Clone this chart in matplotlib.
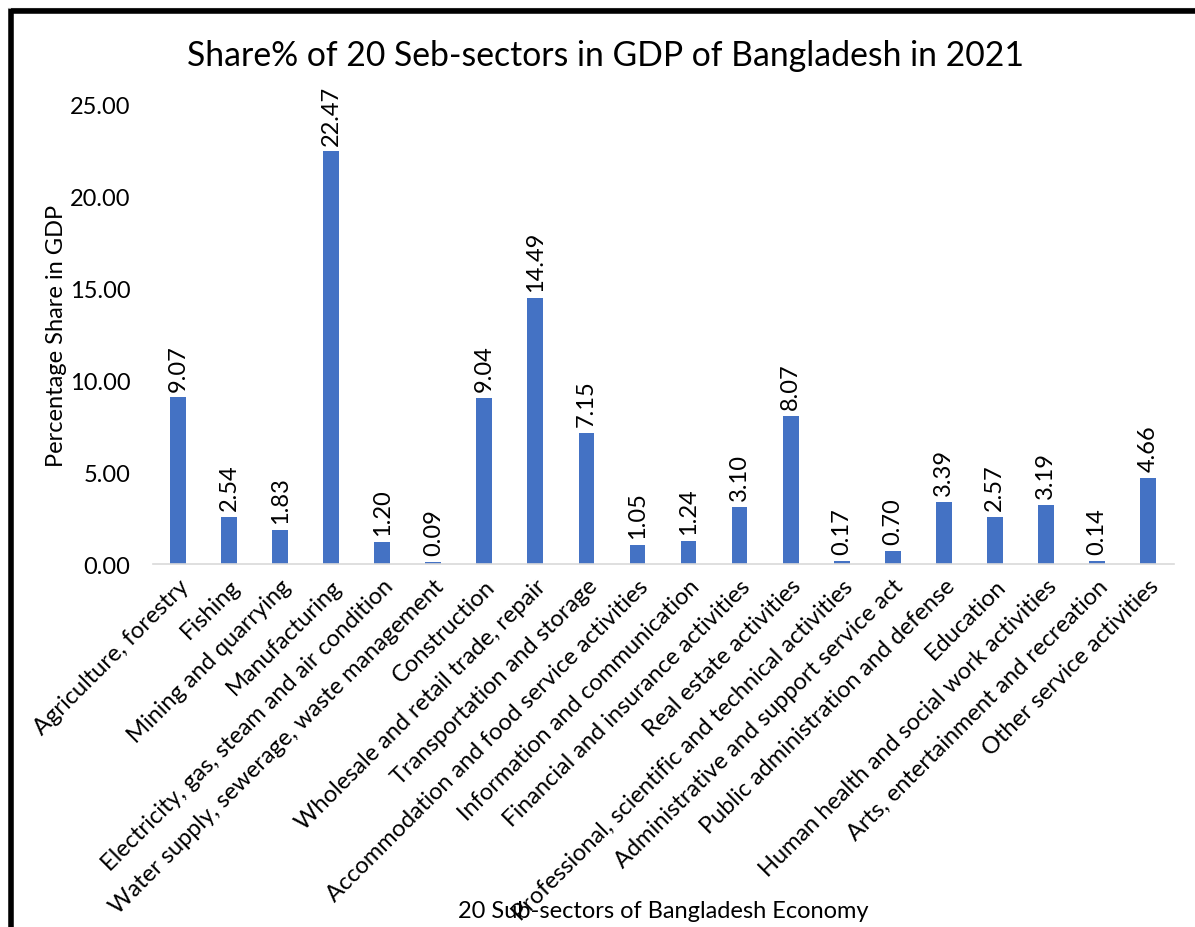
import matplotlib
matplotlib.use("Agg")
import matplotlib.pyplot as plt
from matplotlib.lines import Line2D

# ---- data ----
sectors = [
    "Agriculture, forestry",
    "Fishing",
    "Mining and quarrying",
    "Manufacturing",
    "Electricity, gas, steam and air condition",
    "Water supply, sewerage, waste management",
    "Construction",
    "Wholesale and retail trade, repair",
    "Transportation and storage",
    "Accommodation and food service activities",
    "Information and communication",
    "Financial and insurance activities",
    "Real estate activities",
    "Professional, scientific and technical activities",
    "Administrative and support service act",
    "Public administration and defense",
    "Education",
    "Human health and social work activities",
    "Arts, entertainment and recreation",
    "Other service activities",
]
shares = [9.07, 2.54, 1.83, 22.47, 1.20, 0.09, 9.04, 14.49, 7.15, 1.05,
          1.24, 3.10, 8.07, 0.17, 0.70, 3.39, 2.57, 3.19, 0.14, 4.66]
yticks = [0, 5, 10, 15, 20, 25]

plt.rcParams["font.family"] = ["Lato", "DejaVu Sans"]
FS = 17

W, H = 1195, 928
fig = plt.figure(figsize=(W / 100, H / 100), dpi=100)
ax = fig.add_axes([152.5 / W, 1 - 565 / H, 1021 / W, 459 / H])

x = list(range(len(sectors)))
ax.bar(x, shares, width=0.31, color="#4472C4")

for xi, v in zip(x, shares):
    ax.annotate(f"{v:.2f}", (xi, v), xytext=(0, 5), textcoords="offset points",
                rotation=90, ha="center", va="bottom", fontsize=FS)

ax.set_xlim(-0.5, len(sectors) - 0.5)
ax.set_ylim(0, 25)
ax.set_yticks(yticks)
ax.set_yticklabels([f"{t:.2f}" for t in yticks], fontsize=FS)
ax.set_xticks(x)
ax.set_xticklabels(sectors, rotation=45, ha="right", rotation_mode="anchor", fontsize=FS)
ax.tick_params(axis="y", length=0, pad=16)
ax.tick_params(axis="x", length=0, pad=8)

for s in ["top", "right", "left"]:
    ax.spines[s].set_visible(False)
ax.spines["bottom"].set_color("#D9D9D9")
ax.spines["bottom"].set_linewidth(1.2)

ax.set_ylabel("Percentage Share in GDP", fontsize=FS, labelpad=2)
fig.text(663 / W, 1 - 912 / H, "20 Sub-sectors of Bangladesh Economy",
         ha="center", va="center", fontsize=FS)
fig.text(606 / W, 1 - 56 / H, "Share% of 20 Seb-sectors in GDP of Bangladesh in 2021",
         ha="center", va="center", fontsize=24.3)

# frame border (top and left only, image is cropped)
fig.add_artist(Line2D([8 / W, 1], [1 - 8.5 / H, 1 - 8.5 / H], color="#A0A0A0", lw=0.8,
                      transform=fig.transFigure))
fig.add_artist(Line2D([10.5 / W, 1], [1 - 11.5 / H, 1 - 11.5 / H], color="black", lw=4,
                      transform=fig.transFigure, solid_capstyle="butt"))
fig.add_artist(Line2D([10.5 / W, 10.5 / W], [0, 1 - 9.5 / H], color="black", lw=4,
                      transform=fig.transFigure, solid_capstyle="butt"))

fig.savefig("out.png", dpi=100)
